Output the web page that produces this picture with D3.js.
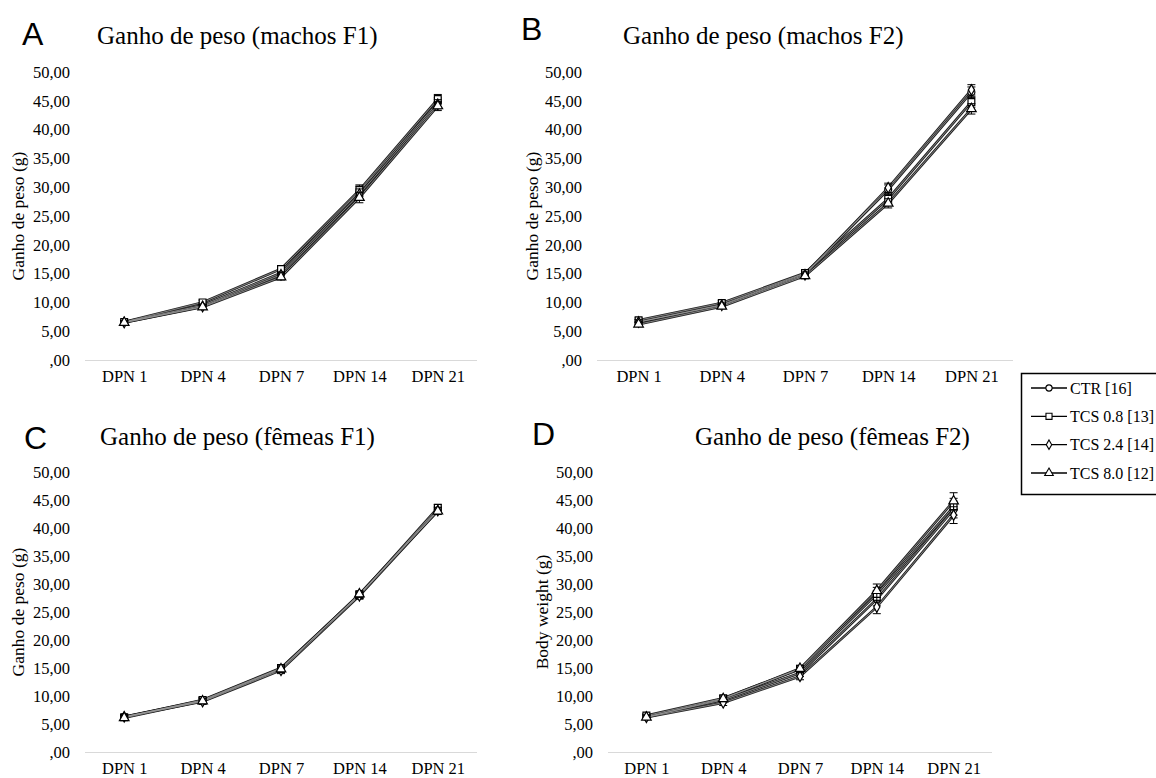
<!DOCTYPE html>
<html>
<head>
<meta charset="utf-8">
<script src="https://cdn.jsdelivr.net/npm/d3@7"></script>
<style>
  html, body { margin: 0; padding: 0; background: #fff; }
  svg { display: block; }
  .serif { font-family: "Liberation Serif", "DejaVu Serif", "Times New Roman", serif; }
  .sans { font-family: "Liberation Sans", Arial, sans-serif; }
</style>
</head>
<body>
<svg id="chart" width="1156" height="778"></svg>
<script>
// ---------- DATA ----------
const categories = ["DPN 1", "DPN 4", "DPN 7", "DPN 14", "DPN 21"];
const seriesNames = ["CTR [16]", "TCS 0.8 [13]", "TCS 2.4 [14]", "TCS 8.0 [12]"];
const yTicks = [0, 5, 10, 15, 20, 25, 30, 35, 40, 45, 50];
const yTickLabels = [",00", "5,00", "10,00", "15,00", "20,00", "25,00", "30,00", "35,00", "40,00", "45,00", "50,00"];

const panelLetters = ["A", "B", "C", "D"];
const panelTitles = ["Ganho de peso (machos F1)", "Ganho de peso (machos F2)", "Ganho de peso (fêmeas F1)", "Ganho de peso (fêmeas F2)"];
const panelYTitles = ["Ganho de peso (g)", "Ganho de peso (g)", "Ganho de peso (g)", "Body weight (g)"];

// Panel A – machos F1
const aCTR  = [6.6, 9.5, 15.1, 29.3, 44.7];
const aT08  = [6.6, 10.0, 15.8, 29.5, 45.3];
const aT24  = [6.5, 9.3, 14.8, 28.8, 44.4];
const aT80  = [6.5, 9.2, 14.4, 28.2, 44.1];
const aErr  = [0.3, 0.4, 0.5, 0.9, 0.8];

// Panel B – machos F2
const bCTR  = [6.6, 9.6, 15.0, 29.6, 46.5];
const bT08  = [6.9, 9.9, 15.1, 28.0, 44.8];
const bT24  = [6.6, 9.5, 14.8, 29.9, 46.9];
const bT80  = [6.2, 9.3, 14.6, 27.2, 43.6];
const bErr  = [0.4, 0.4, 0.5, 0.8, 0.9];

// Panel C – fêmeas F1
const cCTR  = [6.3, 9.2, 14.9, 28.1, 43.3];
const cT08  = [6.2, 9.3, 15.0, 28.0, 43.6];
const cT24  = [6.3, 9.0, 14.6, 27.9, 43.1];
const cT80  = [6.1, 9.1, 14.8, 28.2, 43.0];
const cErr  = [0.4, 0.5, 0.6, 0.6, 0.6];

// Panel D – fêmeas F2
const dCTR  = [6.3, 9.3, 14.1, 27.3, 43.3];
const dT08  = [6.5, 9.6, 14.8, 28.2, 43.8];
const dT24  = [6.2, 8.8, 13.5, 25.9, 42.3];
const dT80  = [6.2, 9.5, 14.9, 28.8, 44.8];
const dErr  = [0.4, 0.5, 0.6, 1.2, 1.5];

const panelSeries = [
  [aCTR, aT08, aT24, aT80],
  [bCTR, bT08, bT24, bT80],
  [cCTR, cT08, cT24, cT80],
  [dCTR, dT08, dT24, dT80]
];
const panelErr = [aErr, bErr, cErr, dErr];

// ---------- LAYOUT ----------
const layouts = [
  {x0: 85,  x1: 477,  yTop: 72,  yBot: 360, tickRight: 70,  yTitleX: 18,  letterX: 22,  letterY: 45,  titleX: 97,  titleY: 44},
  {x0: 597, x1: 1013, yTop: 72,  yBot: 360, tickRight: 582, yTitleX: 532, letterX: 521, letterY: 40,  titleX: 623, titleY: 44},
  {x0: 85,  x1: 477,  yTop: 472, yBot: 752, tickRight: 70,  yTitleX: 18,  letterX: 24,  letterY: 449, titleX: 100, titleY: 445},
  {x0: 608, x1: 992,  yTop: 472, yBot: 752, tickRight: 593, yTitleX: 542, letterX: 532, letterY: 445, titleX: 695, titleY: 445}
];

const symbols = [d3.symbolCircle, d3.symbolSquare, d3.symbolDiamond, d3.symbolTriangle];
const symbolSizes = [38, 46, 32, 40];

const svg = d3.select("#chart");

layouts.forEach((L, p) => {
  const g = svg.append("g");
  const x = d3.scalePoint().domain(categories).range([L.x0, L.x1]).padding(0.5);
  const y = d3.scaleLinear().domain([0, 50]).range([L.yBot, L.yTop]);

  g.append("text").attr("class", "sans").attr("x", L.letterX).attr("y", L.letterY)
    .style("font-size", "32px").attr("fill", "#000")
    .text(panelLetters[p]);
  g.append("text").attr("class", "serif").attr("x", L.titleX).attr("y", L.titleY)
    .style("font-size", "25px").attr("fill", "#000")
    .text(panelTitles[p]);

  const yAxis = d3.axisLeft(y).tickValues(yTicks).tickSize(0)
    .tickFormat((d, i) => yTickLabels[i]);
  const ya = g.append("g").attr("transform", `translate(${L.tickRight},0)`).call(yAxis)
    .attr("font-family", null).attr("font-size", null);
  ya.select(".domain").remove();
  ya.selectAll("text").attr("x", 0).attr("class", "serif").style("font-size", "16.5px").attr("fill", "#000");

  const xAxis = d3.axisBottom(x).tickSize(0).tickPadding(10);
  const xa = g.append("g").attr("transform", `translate(0,${L.yBot})`).call(xAxis)
    .attr("font-family", null).attr("font-size", null);
  xa.select(".domain").attr("d", `M${L.x0},0.5H${L.x1}`).attr("stroke", "#d9d9d9").attr("stroke-width", 1.2);
  xa.selectAll("text").attr("class", "serif").style("font-size", "16.5px").attr("fill", "#000");

  g.append("text").attr("class", "serif")
    .attr("transform", `translate(${L.yTitleX + 6},${(L.yTop + L.yBot) / 2}) rotate(-90)`)
    .attr("text-anchor", "middle")
    .style("font-size", "17.5px").attr("fill", "#000")
    .text(panelYTitles[p]);

  const line = d3.line().x((d, i) => x(categories[i])).y(d => y(d));
  const err = panelErr[p];

  // lines: dark outer stroke with a light core (as in the reference)
  panelSeries[p].forEach((vals) => {
    g.append("path").datum(vals).attr("d", line)
      .attr("fill", "none").attr("stroke", "#222").attr("stroke-width", 2.6);
  });
  panelSeries[p].forEach((vals) => {
    g.append("path").datum(vals).attr("d", line)
      .attr("fill", "none").attr("stroke", "#9a9a9a").attr("stroke-width", 0.8);
  });
  panelSeries[p].forEach((vals, s) => {
    const sg = g.append("g");
    vals.forEach((v, i) => {
      const cx = x(categories[i]);
      const e = err[i];
      sg.append("path")
        .attr("d", `M${cx},${y(v - e)}V${y(v + e)}M${cx - 4},${y(v + e)}H${cx + 4}M${cx - 4},${y(v - e)}H${cx + 4}`)
        .attr("stroke", "#000").attr("stroke-width", 1).attr("fill", "none");
    });
    sg.selectAll("path.m").data(vals).join("path").attr("class", "m")
      .attr("transform", (d, i) => `translate(${x(categories[i])},${y(d)})`)
      .attr("d", d3.symbol().type(symbols[s]).size(symbolSizes[s]))
      .attr("fill", "#fff").attr("stroke", "#000").attr("stroke-width", 1.2);
  });
});

// ---------- LEGEND ----------
const leg = svg.append("g");
leg.append("rect").attr("x", 1021.5).attr("y", 373.5).attr("width", 150).attr("height", 121)
  .attr("fill", "#fff").attr("stroke", "#000").attr("stroke-width", 1.5);
const legY = d3.scalePoint().domain(seriesNames).range([388, 473]);
seriesNames.forEach((name, s) => {
  const yy = legY(name);
  leg.append("line").attr("x1", 1031).attr("x2", 1067).attr("y1", yy).attr("y2", yy)
    .attr("stroke", "#000").attr("stroke-width", 1.3);
  leg.append("path").attr("transform", `translate(1049,${yy})`)
    .attr("d", d3.symbol().type(symbols[s]).size(symbolSizes[s] * 0.8))
    .attr("fill", "#fff").attr("stroke", "#000").attr("stroke-width", 1.1);
  leg.append("text").attr("class", "serif").attr("x", 1070).attr("y", yy + 5.5)
    .style("font-size", "16px").attr("fill", "#000")
    .text(name);
});
</script>
</body>
</html>
